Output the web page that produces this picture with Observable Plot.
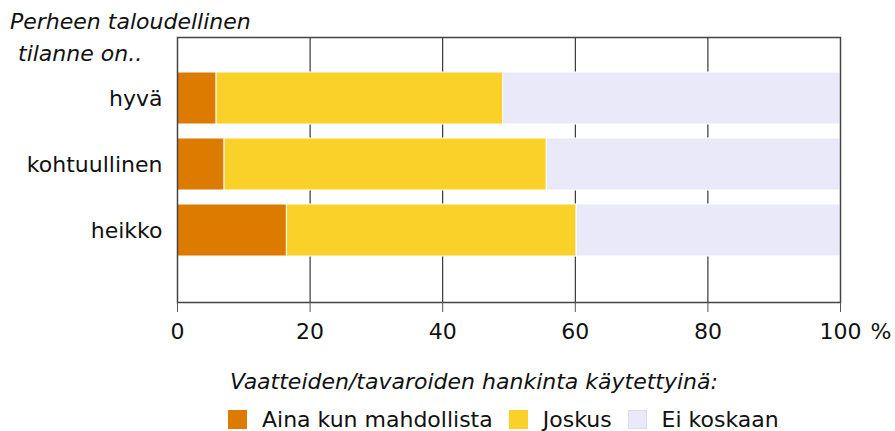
<!DOCTYPE html>
<html><head><meta charset="utf-8">
<script src="https://cdn.jsdelivr.net/npm/d3@7"></script>
<script src="https://cdn.jsdelivr.net/npm/@observablehq/plot@0.6"></script>
<style>
body{margin:0;background:#fff;font-family:"DejaVu Sans",Verdana,sans-serif;}
#wrap{position:relative;width:895px;height:431px;overflow:hidden;background:#fff}
#chart{position:absolute;left:0;top:0}
.t{position:absolute;font-style:italic;font-size:22px;white-space:nowrap;color:#111;line-height:22px}
#legend{position:absolute;left:228px;top:410px;display:flex;align-items:center;font-size:22px;line-height:19px;height:19px;color:#111;white-space:nowrap}
.sw{width:19px;height:19px;margin-right:15px;box-sizing:border-box}
.lb{margin-right:16px;line-height:19px}
</style>
</head><body>
<div id="wrap">
  <div id="chart"></div>
  <div class="t" style="left:10px;top:11px">Perheen taloudellinen</div>
  <div class="t" style="left:18px;top:43px">tilanne on..</div>
  <div class="t" style="left:230px;top:371px">Vaatteiden/tavaroiden hankinta käytettyinä:</div>
  <div id="legend"></div>
</div>
<script>
const categories = ["hyvä", "kohtuullinen", "heikko"];
const seriesNames = ["Aina kun mahdollista", "Joskus", "Ei koskaan"];
const ainaValues = [5.9, 7.1, 16.5];
const joskusValues = [43.2, 48.6, 43.7];
const eiValues = [50.9, 44.3, 39.8];
const xTicks = [0, 20, 40, 60, 80, 100];
const gridTicks = [20, 40, 60, 80];
const colors = ["#DC7B00", "#F9D128", "#E9E9FA"];

const seriesValues = [ainaValues, joskusValues, eiValues];
const data = [];
categories.forEach((c, i) => {
  seriesNames.forEach((s, j) => data.push({cat: c, series: s, value: seriesValues[j][i]}));
});

const plot = Plot.plot({
  width: 895,
  height: 350,
  marginTop: 37,
  marginBottom: 48,
  marginLeft: 177,
  marginRight: 55,
  style: {fontFamily: '"DejaVu Sans", Verdana, sans-serif', fontSize: "22px", color: "#111", background: "#fff"},
  x: {domain: [0, 100]},
  y: {domain: categories, range: [64.7, 262.7], paddingInner: 0.212, paddingOuter: 0.106},
  color: {domain: seriesNames, range: colors},
  marks: [
    Plot.ruleX(gridTicks, {stroke: "#111", strokeWidth: 1}),
    Plot.barX(data, Plot.stackX({x: "value", y: "cat", fill: "series", order: seriesNames, stroke: "#fff", strokeWidth: 1})),
    Plot.frame({stroke: "#444", strokeWidth: 1.5}),
    Plot.axisX({ticks: xTicks, tickSize: 10, tickPadding: 11, tickFormat: d => String(d), stroke: "#555", fontSize: 22, label: null}),
    Plot.text(["%"], {x: () => 100, frameAnchor: "bottom", textAnchor: "start", dx: 30, dy: 21, lineAnchor: "top", fontSize: 22, fill: "#111"}),
    Plot.axisY({tickSize: 0, tickPadding: 15, fontSize: 22, label: null})
  ]
});
document.getElementById("chart").appendChild(plot);

const legend = document.getElementById("legend");
seriesNames.forEach((s, j) => {
  const sw = document.createElement("div");
  sw.className = "sw";
  sw.style.background = colors[j];
  if (j === 2) sw.style.border = "1px solid #dcdcef";
  const lb = document.createElement("div");
  lb.className = "lb";
  lb.textContent = s;
  legend.appendChild(sw);
  legend.appendChild(lb);
});
</script>
</body></html>
